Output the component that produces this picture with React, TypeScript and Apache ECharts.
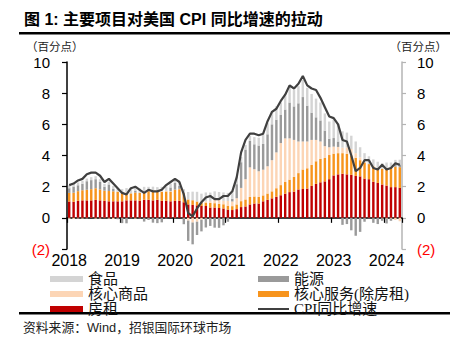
import React, { useEffect, useRef } from "react";
import * as echarts from "echarts";

const yearLabels = ["2018", "2019", "2020", "2021", "2022", "2023", "2024"];
const categories: string[] = [];
for (const y of yearLabels) {
  for (let m = 1; m <= 12; m++) categories.push(`${y}-${String(m).padStart(2, "0")}`);
}
categories.splice(76);

// 房租
const rent = [
  1.05, 1.03, 1.09, 1.12, 1.12, 1.12, 1.15, 1.12, 1.09, 1.06, 1.06, 1.06,
  1.06, 1.12, 1.12, 1.12, 1.09, 1.16, 1.16, 1.12, 1.16, 1.09, 1.09, 1.06,
  1.09, 1.09, 1.0, 0.86, 0.83, 0.8, 0.76, 0.76, 0.66, 0.66, 0.63, 0.6,
  0.53, 0.5, 0.56, 0.69, 0.73, 0.86, 0.92, 0.92, 1.06, 1.16, 1.25, 1.35,
  1.45, 1.55, 1.65, 1.68, 1.82, 1.85, 1.88, 2.05, 2.18, 2.28, 2.34, 2.48,
  2.72, 2.79, 2.83, 2.79, 2.76, 2.69, 2.66, 2.52, 2.48, 2.31, 2.24, 2.14,
  2.07, 1.97, 1.97, 1.92,
];
// 核心服务(除房租)
const coreServices = [
  0.55, 0.58, 0.62, 0.65, 0.68, 0.72, 0.75, 0.7, 0.65, 0.66, 0.64, 0.62,
  0.55, 0.48, 0.45, 0.5, 0.52, 0.5, 0.55, 0.58, 0.55, 0.58, 0.6, 0.62,
  0.72, 0.75, 0.58, 0.32, 0.3, 0.25, 0.22, 0.22, 0.3, 0.28, 0.27, 0.27,
  0.25, 0.25, 0.3, 0.38, 0.45, 0.48, 0.45, 0.42, 0.38, 0.4, 0.45, 0.55,
  0.65, 0.75, 0.8, 0.95, 1.05, 1.25, 1.3, 1.35, 1.45, 1.5, 1.5, 1.55,
  1.4, 1.36, 1.32, 1.31, 1.24, 1.16, 1.04, 1.03, 0.97, 0.99, 0.96, 1.01,
  1.13, 1.28, 1.31, 1.33,
];
// 核心商品
const coreGoods = [
  -0.06, -0.08, -0.04, -0.05, -0.03, -0.01, -0.05, -0.04, -0.02, -0.05, -0.08, -0.04,
  0.01, 0.04, 0.0, -0.05, 0.0, 0.05, 0.03, 0.06, 0.02, 0.04, 0.04, 0.03,
  -0.02, 0.02, -0.01, -0.18, -0.3, -0.25, -0.12, 0.08, 0.12, 0.22, 0.25, 0.22,
  0.3, 0.3, 0.4, 0.85, 1.3, 1.9, 1.75, 1.65, 1.65, 1.75, 2.0, 2.3,
  2.7, 2.8, 2.65, 2.37, 2.03, 1.8, 1.72, 1.6, 1.37, 1.12, 0.76, 0.5,
  0.45, 0.4, 0.35, 0.42, 0.42, 0.3, 0.18, 0.05, 0.0, -0.02, 0.0, -0.04,
  -0.06, -0.06, -0.14, -0.22,
];
// 能源
const energy = [
  0.3, 0.4, 0.38, 0.42, 0.55, 0.58, 0.58, 0.48, 0.25, 0.42, 0.15, -0.05,
  -0.34, -0.35, -0.03, 0.12, -0.04, -0.24, -0.14, -0.31, -0.34, -0.29, -0.04, 0.24,
  0.43, 0.19, -0.4, -1.3, -1.4, -0.85, -0.75, -0.62, -0.52, -0.63, -0.64, -0.48,
  -0.25, 0.17, 0.9, 1.65, 1.9, 1.7, 1.6, 1.65, 1.65, 2.05, 2.3, 2.1,
  1.8, 1.85, 2.3, 2.15, 2.45, 2.85, 2.3, 1.75, 1.45, 1.35, 1.0, 0.55,
  0.55, 0.35, -0.45, -0.4, -0.8, -1.15, -0.9, -0.25, -0.03, -0.3, -0.4, -0.15,
  -0.3, -0.13, 0.14, 0.18,
];
// 食品
const food = [
  0.19, 0.18, 0.18, 0.19, 0.17, 0.19, 0.19, 0.18, 0.19, 0.17, 0.19, 0.22,
  0.22, 0.27, 0.29, 0.25, 0.27, 0.28, 0.25, 0.24, 0.24, 0.28, 0.28, 0.25,
  0.25, 0.25, 0.26, 0.48, 0.55, 0.62, 0.57, 0.57, 0.54, 0.54, 0.51, 0.54,
  0.52, 0.49, 0.48, 0.33, 0.3, 0.33, 0.46, 0.5, 0.63, 0.72, 0.83, 0.86,
  0.8, 0.9, 1.0, 1.05, 1.1, 1.1, 1.15, 1.2, 1.2, 1.15, 1.1, 1.1,
  1.2, 1.15, 1.05, 0.95, 0.85, 0.75, 0.65, 0.55, 0.5, 0.45, 0.4, 0.37,
  0.35, 0.3, 0.3, 0.3,
];
// CPI同比增速
const cpi = [
  2.1, 2.2, 2.4, 2.5, 2.8, 2.9, 2.9, 2.7, 2.3, 2.5, 2.2, 1.9,
  1.6, 1.5, 1.9, 2.0, 1.8, 1.6, 1.8, 1.7, 1.7, 1.8, 2.1, 2.3,
  2.5, 2.3, 1.5, 0.3, 0.1, 0.6, 1.0, 1.3, 1.4, 1.2, 1.2, 1.4,
  1.4, 1.7, 2.6, 4.2, 5.0, 5.4, 5.4, 5.3, 5.4, 6.2, 6.8, 7.0,
  7.5, 7.9, 8.5, 8.3, 8.6, 9.1, 8.5, 8.3, 8.2, 7.7, 7.1, 6.5,
  6.4, 6.0, 5.0, 4.9, 4.0, 3.0, 3.2, 3.7, 3.7, 3.2, 3.1, 3.4,
  3.1, 3.2, 3.5, 3.4,
];

const yMin = -2;
const yMax = 10;
const yStep = 2;

const NUM_FONT = '"Liberation Sans", Arial, sans-serif';
const CJK_SERIF = '"Liberation Serif", "Noto Sans CJK SC", serif';
const CJK_SANS = '"Liberation Sans", "Noto Sans CJK SC", sans-serif';

const yLabelFmt = (v: number) => (v < 0 ? `{r|(${-v})}` : `${v}`);

export default function App() {
  const ref = useRef<HTMLDivElement>(null);
  useEffect(() => {
    if (!ref.current) return;
    const chart = echarts.init(ref.current, undefined, { renderer: "svg" });
    const barBase = {
      type: "bar" as const,
      stack: "total",
      barWidth: "55%",
      xAxisIndex: 0,
      yAxisIndex: 0,
    };
    const legendText = { fontSize: 15, lineHeight: 13.5, fontFamily: CJK_SERIF, color: "#111" };
    chart.setOption({
      animation: false,
      backgroundColor: "#ffffff",
      grid: {
        left: 67,
        right: 52,
        top: 62,
        bottom: 104,
        containLabel: false,
        outerBoundsMode: "none",
      },
      xAxis: [
        {
          type: "category",
          data: categories,
          position: "bottom",
          boundaryGap: true,
          axisLine: { show: false, onZero: false },
          axisTick: { show: false },
          splitLine: { show: false },
          axisLabel: {
            interval: 11,
            formatter: (v: string) => v.slice(0, 4),
            fontSize: 16,
            fontFamily: NUM_FONT,
            color: "#000",
            margin: 3,
          },
        },
        {
          type: "category",
          data: categories,
          position: "bottom",
          boundaryGap: true,
          axisLine: { show: true, onZero: true, lineStyle: { color: "#000", width: 1.6 } },
          axisTick: { show: true, interval: 11, length: 5, lineStyle: { color: "#000", width: 1.2 } },
          axisLabel: { show: false },
          splitLine: { show: false },
        },
      ],
      yAxis: [
        {
          type: "value",
          position: "left",
          min: yMin,
          max: yMax,
          interval: yStep,
          axisLine: { show: true, onZero: false, lineStyle: { color: "#000", width: 1.5 } },
          axisTick: { show: true, length: 5, lineStyle: { color: "#000", width: 1.2 } },
          splitLine: { show: false },
          axisLabel: {
            formatter: yLabelFmt,
            fontSize: 15,
            fontFamily: NUM_FONT,
            color: "#000",
            margin: 17,
            rich: { r: { color: "#ff0000", fontSize: 15, fontFamily: NUM_FONT } },
          },
        },
        {
          type: "value",
          position: "right",
          min: yMin,
          max: yMax,
          interval: yStep,
          axisLine: { show: true, onZero: false, lineStyle: { color: "#b4b4b4", width: 1.5 } },
          axisTick: { show: true, length: 4, lineStyle: { color: "#b4b4b4", width: 1.2 } },
          splitLine: { show: false },
          axisLabel: {
            formatter: yLabelFmt,
            fontSize: 15,
            fontFamily: NUM_FONT,
            color: "#000",
            margin: 15,
            rich: { r: { color: "#ff0000", fontSize: 15, fontFamily: NUM_FONT } },
          },
        },
      ],
      legend: [
        {
          orient: "vertical",
          left: 50,
          top: 271.5,
          padding: 0,
          itemGap: 0,
          itemWidth: 33,
          itemHeight: 6,
          selectedMode: false,
          textStyle: legendText,
          data: [
            { name: "食品", icon: "rect" },
            { name: "核心商品", icon: "rect" },
            { name: "房租", icon: "rect" },
          ],
        },
        {
          orient: "vertical",
          left: 257,
          top: 271.5,
          padding: 0,
          itemGap: 0,
          itemWidth: 31,
          itemHeight: 6,
          selectedMode: false,
          textStyle: legendText,
          data: [
            { name: "能源", icon: "rect" },
            { name: "核心服务(除房租)", icon: "rect" },
            { name: "CPI同比增速", itemStyle: { opacity: 0 }, lineStyle: { width: 2 } },
          ],
        },
      ],
      graphic: [
        {
          type: "text",
          x: 24,
          y: 19,
          style: {
            text: "图 1: 主要项目对美国 CPI 同比增速的拉动",
            font: `bold 16px ${CJK_SANS}`,
            fill: "#000",
            verticalAlign: "middle",
          },
        },
        { type: "rect", shape: { x: 19, y: 32, width: 431, height: 2.5 }, style: { fill: "#000" } },
        {
          type: "text",
          x: 26,
          y: 47,
          style: { text: "（百分点）", font: `11.5px ${CJK_SERIF}`, fill: "#222", verticalAlign: "middle" },
        },
        {
          type: "text",
          x: 447,
          y: 47,
          style: {
            text: "（百分点）",
            font: `11.5px ${CJK_SERIF}`,
            fill: "#222",
            align: "right",
            verticalAlign: "middle",
          },
        },
        { type: "rect", shape: { x: 19, y: 312, width: 431, height: 2.5 }, style: { fill: "#000" } },
        {
          type: "text",
          x: 23,
          y: 327,
          style: {
            text: "资料来源：Wind，招银国际环球市场",
            font: `12.8px ${CJK_SANS}`,
            fill: "#222",
            verticalAlign: "middle",
          },
        },
      ],
      series: [
        { ...barBase, name: "房租", data: rent, itemStyle: { color: "#c00000" } },
        { ...barBase, name: "核心服务(除房租)", data: coreServices, itemStyle: { color: "#f7941d" } },
        { ...barBase, name: "核心商品", data: coreGoods, itemStyle: { color: "#fcd5b5" } },
        { ...barBase, name: "能源", data: energy, itemStyle: { color: "#9a9a9a" } },
        { ...barBase, name: "食品", data: food, itemStyle: { color: "#d4d4d4" } },
        {
          type: "line",
          name: "CPI同比增速",
          data: cpi,
          xAxisIndex: 0,
          yAxisIndex: 0,
          symbol: "none",
          z: 5,
          lineStyle: { color: "#404040", width: 2.2 },
          itemStyle: { color: "#404040" },
        },
      ],
    });
    return () => chart.dispose();
  }, []);
  return <div ref={ref} style={{ width: 454, height: 353, position: "absolute", left: 0, top: 0 }} />;
}
